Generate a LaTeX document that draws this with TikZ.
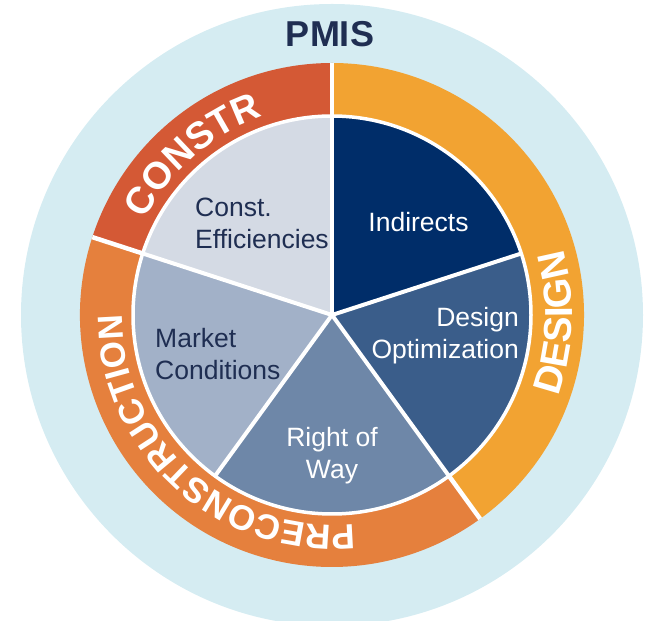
\documentclass[tikz,border=0pt]{standalone}
\usepackage{fontspec}
\setmainfont{Liberation Sans}
\usetikzlibrary{decorations.text}
\definecolor{bgblue}{HTML}{D5ECF2}
\definecolor{constrc}{HTML}{D45935}
\definecolor{preconc}{HTML}{E5803D}
\definecolor{designc}{HTML}{F2A332}
\definecolor{indc}{HTML}{002D69}
\definecolor{optc}{HTML}{3A5D8A}
\definecolor{rowc}{HTML}{6E87A8}
\definecolor{mktc}{HTML}{A2B1C8}
\definecolor{effc}{HTML}{D4DAE4}
\definecolor{navytext}{HTML}{1F2E52}
\newcommand\ringfontA{\bfseries\fontsize{38}{38}\selectfont}
\newcommand\ringfontB{\bfseries\fontsize{35}{35}\selectfont}
\newcommand\ringfontC{\bfseries\fontsize{39}{39}\selectfont}
\begin{document}
\begin{tikzpicture}[x=1pt,y=1pt,
  slicetext/.style={font=\fontsize{26.5}{32}\selectfont, inner sep=0pt},
  ringsep/.style={draw=white, line width=4.5pt},
  piesep/.style={draw=white, line width=4pt},
  ringtext/.style={decorate, decoration={text along path, text align=center, text color=white, text={#1}}}
]
\useasboundingbox (0,0) rectangle (646,621);
\coordinate (C) at (332,306);
% outer light blue disc
\fill[bgblue] (C) circle[radius=311];
% ring segments
\fill[constrc] (C) -- ([shift={(90:252)}]C) arc[start angle=90,end angle=162,radius=252] -- cycle;
\fill[preconc] (C) -- ([shift={(162:252)}]C) arc[start angle=162,end angle=306,radius=252] -- cycle;
\fill[designc] (C) -- ([shift={(-54:252)}]C) arc[start angle=-54,end angle=90,radius=252] -- cycle;
\foreach \a in {90,162,-54} \draw[ringsep] (C) -- ([shift={(\a:252)}]C);
% pie slices
\fill[indc] (C) -- ([shift={(90:198)}]C) arc[start angle=90,end angle=18,radius=198] -- cycle;
\fill[optc] (C) -- ([shift={(18:198)}]C) arc[start angle=18,end angle=-54,radius=198] -- cycle;
\fill[rowc] (C) -- ([shift={(-54:198)}]C) arc[start angle=-54,end angle=-126,radius=198] -- cycle;
\fill[mktc] (C) -- ([shift={(-126:198)}]C) arc[start angle=-126,end angle=-198,radius=198] -- cycle;
\fill[effc] (C) -- ([shift={(162:198)}]C) arc[start angle=162,end angle=90,radius=198] -- cycle;
\draw[white, line width=3.5pt] (C) circle[radius=199];
\foreach \a in {90,18,-54,-126,162} \draw[piesep] (C) -- ([shift={(\a:199)}]C);
% ring labels
\path[ringtext={|\ringfontA|CONSTR}] ([shift={(171:210)}]C) arc[start angle=171,end angle=91,radius=210];
\path[ringtext={|\ringfontB|PRECONSTRUCTION}] ([shift={(-56:210)}]C) arc[start angle=-56,end angle=-208,radius=210];
\path[ringtext={|\ringfontC|DESIGN}] ([shift={(-42:240)}]C) arc[start angle=-42,end angle=38,radius=240];
% title
\node[font=\bfseries\fontsize{36}{36}\selectfont, text=navytext, inner sep=0pt, anchor=base] (pmis) at (330,574) {PMIS};
% slice labels
\node[slicetext, text=white, anchor=base] (ind) at (418.5,389) {Indirects};
\node[slicetext, text=navytext, align=left, anchor=base west] (eff) at (195,372) {Const.\\Efficiencies};
\node[slicetext, text=white, align=right, anchor=base east] (opt) at (519,262) {Design\\Optimization};
\node[slicetext, text=white, align=center, anchor=base] (row) at (332,142) {Right of\\Way};
\node[slicetext, text=navytext, align=left, anchor=base west] (mkt) at (155,241) {Market\\Conditions};
\end{tikzpicture}
\end{document}
